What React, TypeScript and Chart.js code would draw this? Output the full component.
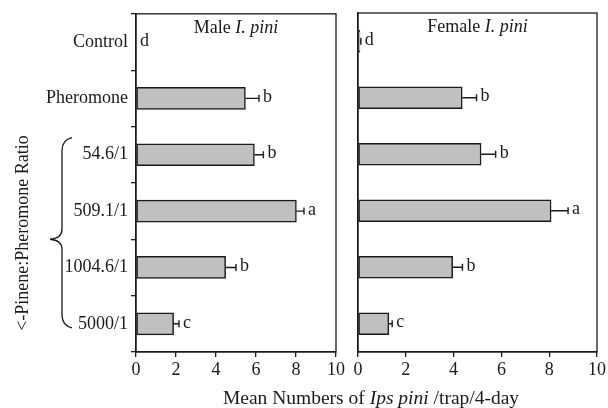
import React, { useEffect, useRef } from "react";
import { Chart, registerables } from "chart.js";
Chart.register(...registerables);

const categories = ["Control", "Pheromone", "54.6/1", "509.1/1", "1004.6/1", "5000/1"];
const maleMeans = [0, 5.47, 5.92, 8.02, 4.48, 1.88];
const maleSE = [0, 0.68, 0.45, 0.38, 0.52, 0.27];
const maleLetters = ["d", "b", "b", "a", "b", "c"];
const femaleMeans = [0.08, 4.36, 5.15, 8.08, 3.96, 1.29];
const femaleSE = [0.04, 0.6, 0.61, 0.71, 0.41, 0.14];
const femaleLetters = ["d", "b", "b", "a", "b", "c"];
const xTicks = [0, 2, 4, 6, 8, 10];

const FONT = "'Liberation Serif', 'Times New Roman', serif";
const INK = "#1a1a1a";
const BAR_FILL = "#bfc0c2";

type Seg = { t: string; it: boolean };

function drawSegs(ctx: CanvasRenderingContext2D, segs: Seg[], cx: number, y: number, size: number) {
  let total = 0;
  const widths = segs.map((s) => {
    ctx.font = `${s.it ? "italic " : ""}${size}px ${FONT}`;
    const w = ctx.measureText(s.t).width;
    total += w;
    return w;
  });
  let x = cx - total / 2;
  ctx.textAlign = "left";
  ctx.textBaseline = "alphabetic";
  segs.forEach((s, i) => {
    ctx.font = `${s.it ? "italic " : ""}${size}px ${FONT}`;
    ctx.fillText(s.t, x, y);
    x += widths[i];
  });
}

function panelPlugin(means: number[], se: number[], letters: string[], title: Seg[]) {
  return {
    id: "panelDeco",
    afterDatasetsDraw(chart: any) {
      const ctx: CanvasRenderingContext2D = chart.ctx;
      const xs = chart.scales.x;
      const meta = chart.getDatasetMeta(0);
      const ca = chart.chartArea;
      ctx.save();
      ctx.strokeStyle = INK;
      ctx.fillStyle = INK;
      ctx.lineWidth = 1.4;
      meta.data.forEach((bar: any, i: number) => {
        const y = bar.y;
        const x0 = xs.getPixelForValue(means[i]);
        const x1 = xs.getPixelForValue(means[i] + se[i]);
        if (se[i] > 0) {
          ctx.beginPath();
          ctx.moveTo(x0, y);
          ctx.lineTo(x1, y);
          ctx.moveTo(x1, y - 3.5);
          ctx.lineTo(x1, y + 3.5);
          ctx.stroke();
        }
        ctx.font = `18px ${FONT}`;
        ctx.textAlign = "left";
        ctx.textBaseline = "middle";
        ctx.fillText(letters[i], x1 + 4, y - 1);
      });
      // frame
      ctx.lineWidth = 1.3;
      ctx.strokeRect(ca.left, ca.top, ca.right - ca.left, ca.bottom - ca.top);
      // title
      drawSegs(ctx, title, (ca.left + ca.right) / 2, ca.top + 19, 18);
      ctx.restore();
    },
  };
}

const outerPlugin = {
  id: "outerDeco",
  afterDraw(chart: any) {
    const ctx: CanvasRenderingContext2D = chart.ctx;
    const ys = chart.scales.y;
    ctx.save();
    ctx.fillStyle = INK;
    ctx.strokeStyle = INK;
    // x axis title
    drawSegs(
      ctx,
      [
        { t: "Mean Numbers of ", it: false },
        { t: "Ips pini", it: true },
        { t: " /trap/4-day", it: false },
      ],
      371,
      404,
      19.5
    );
    // y axis title
    ctx.save();
    ctx.translate(28, 233);
    ctx.rotate(-Math.PI / 2);
    ctx.font = `18px ${FONT}`;
    ctx.textAlign = "center";
    ctx.textBaseline = "alphabetic";
    ctx.fillText("<-Pinene:Pheromone Ratio", 0, 0);
    ctx.restore();
    // brace
    const top = ys.getPixelForValue(2) - 17;
    const bot = ys.getPixelForValue(5) + 4;
    const mid = (ys.getPixelForValue(3) + ys.getPixelForValue(4)) / 2;
    const vx = 62;
    ctx.lineWidth = 1.3;
    ctx.beginPath();
    ctx.moveTo(72, top);
    ctx.quadraticCurveTo(vx, top + 2, vx, top + 13);
    ctx.lineTo(vx, mid - 10);
    ctx.quadraticCurveTo(vx, mid - 1, 50, mid);
    ctx.quadraticCurveTo(vx, mid + 1, vx, mid + 10);
    ctx.lineTo(vx, bot - 13);
    ctx.quadraticCurveTo(vx, bot - 2, 72, bot);
    ctx.stroke();
    ctx.restore();
  },
};

function xScale() {
  return {
    type: "linear",
    min: 0,
    max: 10,
    afterBuildTicks: (s: any) => {
      s.ticks = xTicks.map((v) => ({ value: v }));
    },
    afterFit: (s: any) => {
      s.height = 30;
    },
    grid: { drawOnChartArea: false, tickLength: 5, color: INK, lineWidth: 1.3 },
    border: { display: true, color: INK, width: 1.3 },
    ticks: { color: INK, font: { family: FONT, size: 18 }, padding: 2, autoSkip: false, maxRotation: 0 },
  };
}

export default function App() {
  const ref1 = useRef<HTMLCanvasElement>(null);
  const ref2 = useRef<HTMLCanvasElement>(null);

  useEffect(() => {
    document.body.style.margin = "0";
    const ds = (data: number[]) => ({
      data,
      backgroundColor: BAR_FILL,
      borderColor: INK,
      borderWidth: 1.5,
      borderSkipped: false,
      barThickness: 22,
    });
    const c1 = new Chart(ref1.current!, {
      type: "bar",
      data: { labels: categories, datasets: [ds(maleMeans)] },
      options: {
        indexAxis: "y",
        animation: false,
        responsive: false,
        layout: { padding: { left: 0, top: 13, right: 272, bottom: 26 } },
        plugins: { legend: { display: false }, tooltip: { enabled: false } },
        scales: {
          x: xScale() as any,
          y: {
            type: "category",
            afterFit: (s: any) => {
              s.width = 136;
            },
            grid: { drawOnChartArea: false, tickLength: 5, color: INK, lineWidth: 1.3, offset: true },
            border: { display: true, color: INK, width: 1.3 },
            ticks: { color: INK, font: { family: FONT, size: 18 }, padding: 3 },
          },
        },
      },
      plugins: [
        panelPlugin(maleMeans, maleSE, maleLetters, [
          { t: "Male ", it: false },
          { t: "I. pini", it: true },
        ]),
        outerPlugin,
      ],
    } as any);
    const c2 = new Chart(ref2.current!, {
      type: "bar",
      data: { labels: categories, datasets: [ds(femaleMeans)] },
      options: {
        indexAxis: "y",
        animation: false,
        responsive: false,
        layout: { padding: { left: 0, top: 13, right: 10, bottom: 26 } },
        plugins: { legend: { display: false }, tooltip: { enabled: false } },
        scales: {
          x: xScale() as any,
          y: {
            type: "category",
            afterFit: (s: any) => {
              s.width = 18;
            },
            grid: { display: false },
            border: { display: true, color: INK, width: 1.3 },
            ticks: { display: false },
          },
        },
      },
      plugins: [
        panelPlugin(femaleMeans, femaleSE, femaleLetters, [
          { t: "Female ", it: false },
          { t: "I. pini", it: true },
        ]),
      ],
    } as any);
    return () => {
      c1.destroy();
      c2.destroy();
    };
  }, []);

  return (
    <div style={{ position: "relative", width: 608, height: 408, background: "#fff" }}>
      <canvas ref={ref1} width={608} height={408} style={{ position: "absolute", left: 0, top: 0 }} />
      <canvas ref={ref2} width={268} height={408} style={{ position: "absolute", left: 340, top: 0 }} />
    </div>
  );
}
